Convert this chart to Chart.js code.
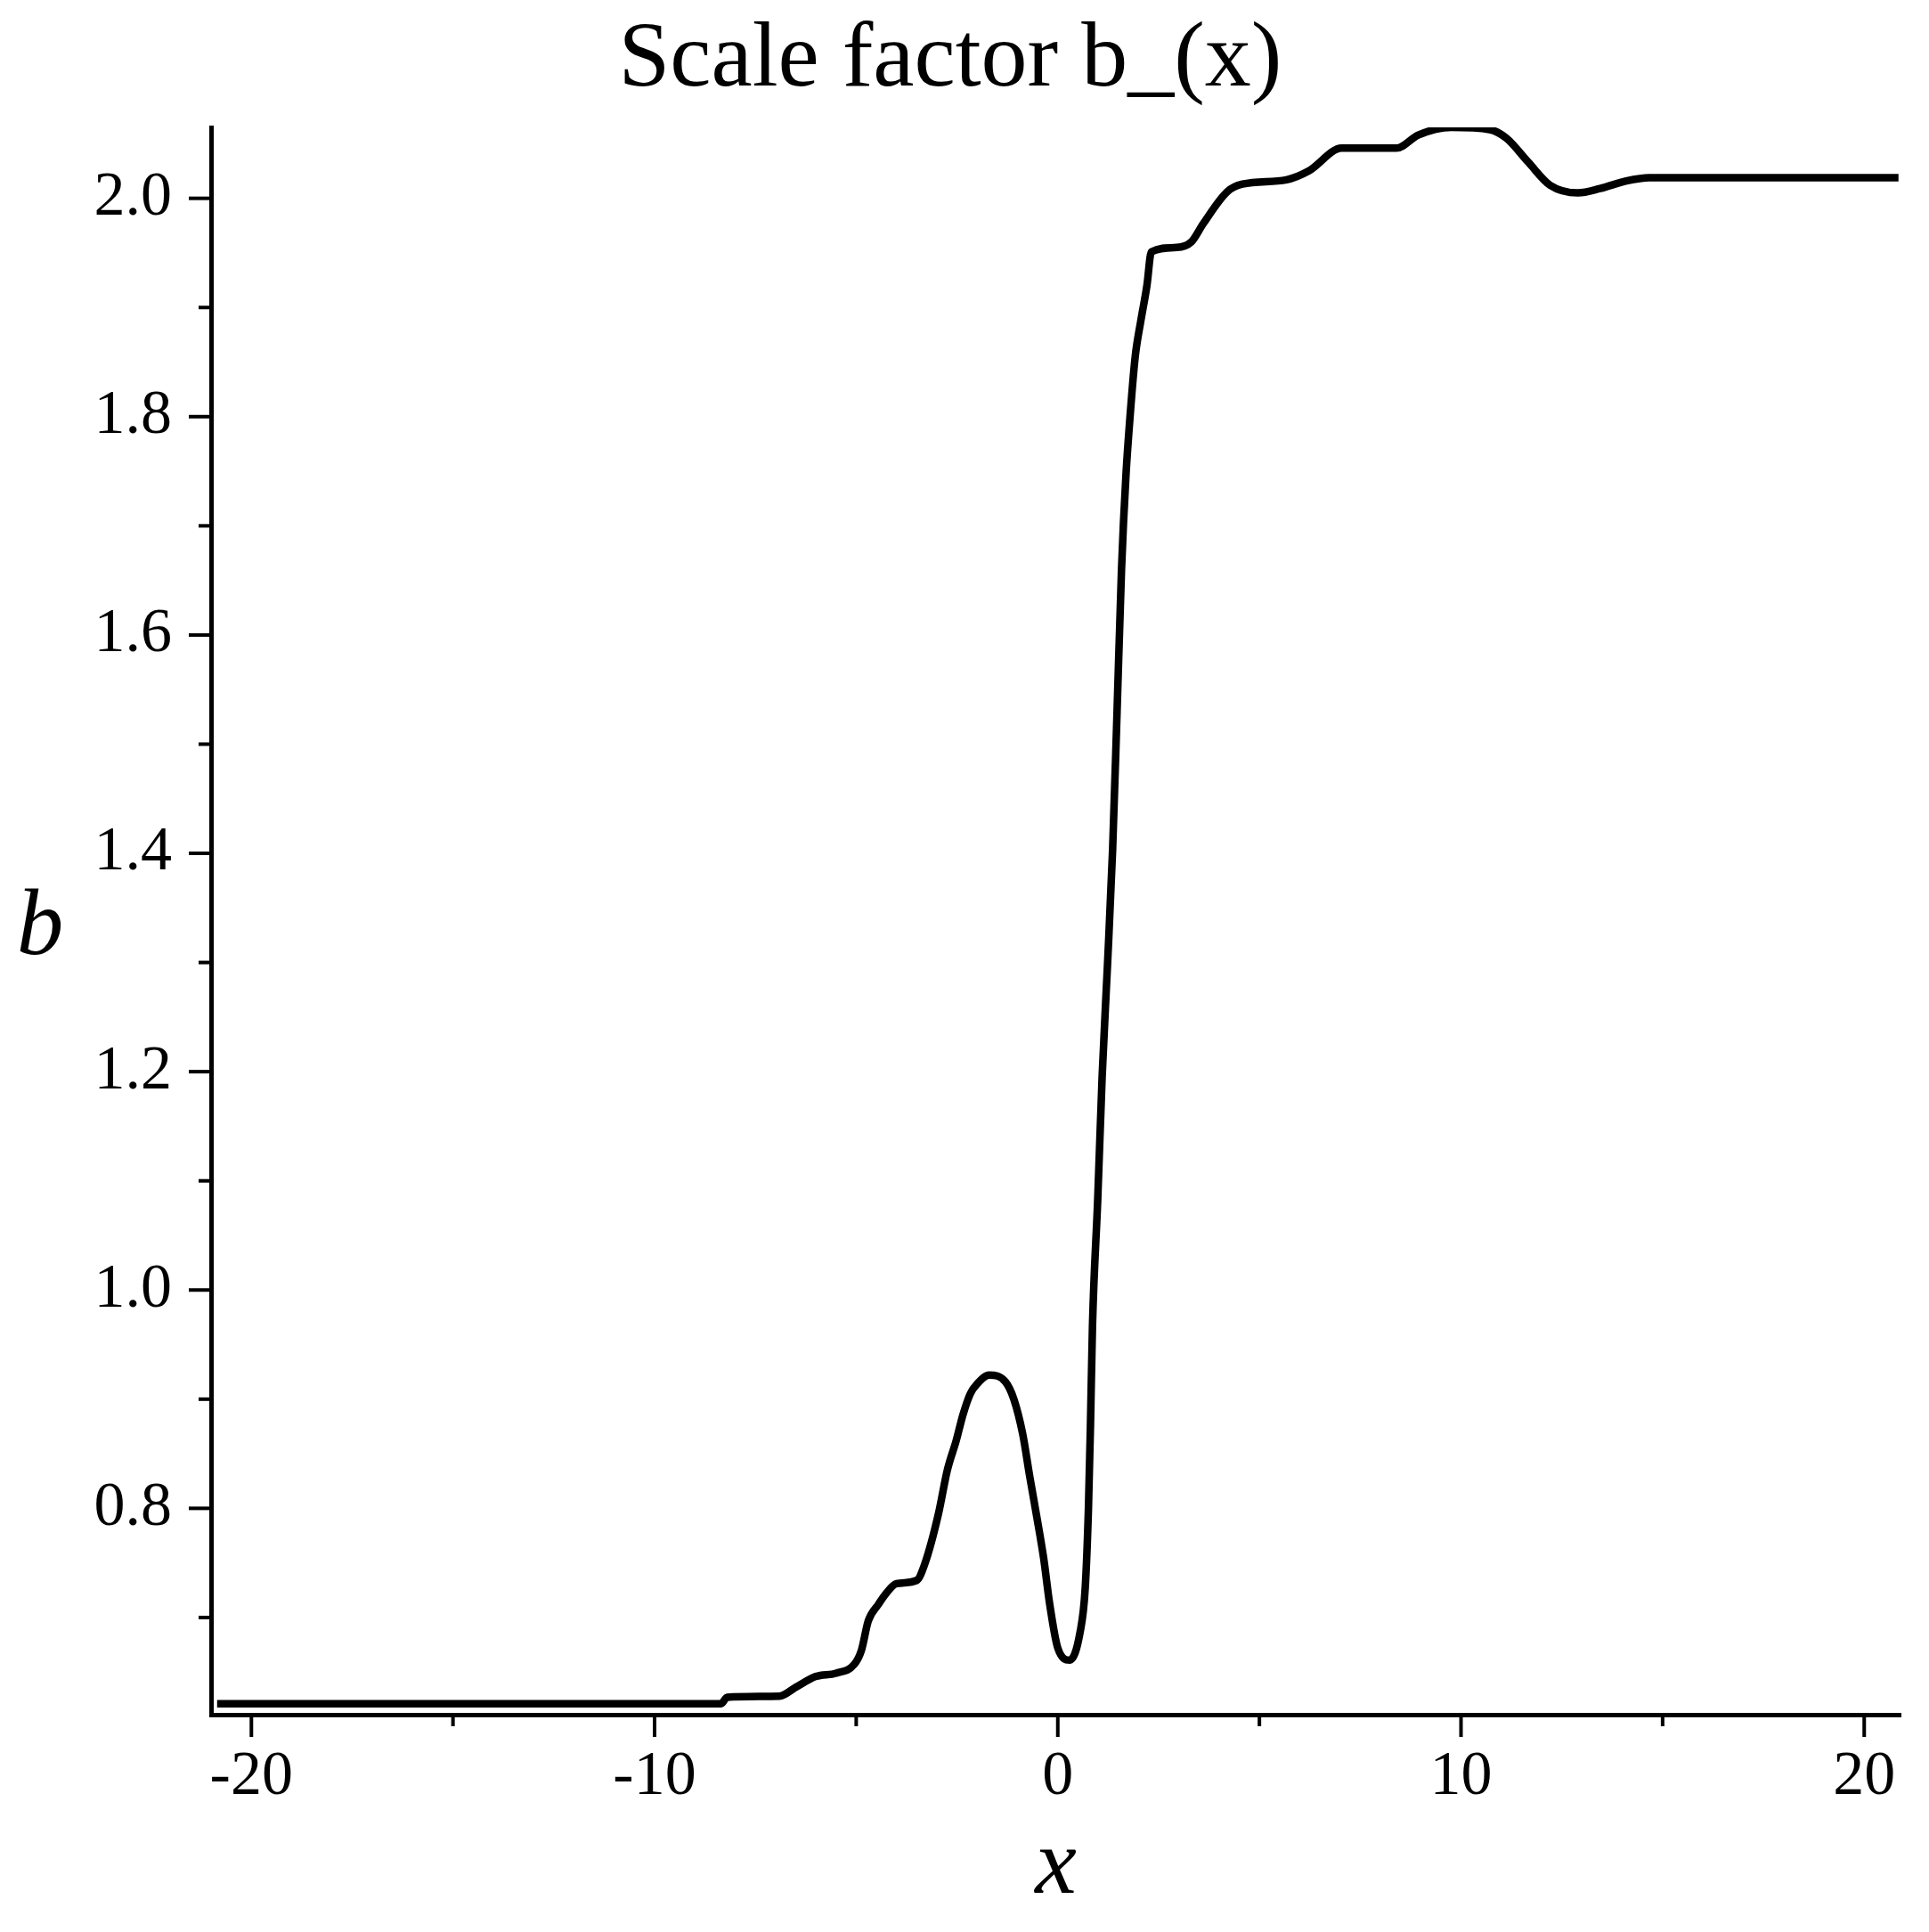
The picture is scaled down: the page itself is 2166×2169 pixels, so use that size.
<!DOCTYPE html>
<html>
<head>
<meta charset="utf-8">
<script src="https://cdn.jsdelivr.net/npm/chart.js@4"></script>
<style>
  html, body { margin: 0; padding: 0; background: #fff; }
  canvas { display: block; }
</style>
</head>
<body>
<canvas id="scaleChart" width="2166" height="2169"></canvas>
<script>
// values
const xValues = [-20.85, -8.35, -8.2, -6.9, -6.5, -6.0, -5.5, -5.05, -4.87, -4.7, -4.45, -4.26, -4.0, -3.5, -3.3,
    -2.96, -2.74, -2.52, -2.35, -2.17, -2.0, -1.7, -1.3, -1.09, -0.87, -0.7, -0.52, -0.35, -0.2, 0.0,
    0.3, 0.55, 0.68, 0.76, 0.81, 0.86, 0.99, 1.10, 1.23, 1.36, 1.47, 1.58, 1.69, 1.80, 1.92, 2.06, 2.21, 2.32,
    2.95, 3.31, 3.61, 4.20, 4.58, 5.67, 6.22, 7.04, 8.40, 8.94, 9.76, 10.71, 11.13, 11.67, 12.21, 12.9,
    13.45, 14.1, 14.67, 20.85];
const bValues = [0.621, 0.621, 0.627, 0.628, 0.636, 0.646, 0.649, 0.657, 0.670, 0.697, 0.712, 0.722, 0.731, 0.734, 0.749,
    0.795, 0.835, 0.862, 0.886, 0.905, 0.914, 0.922, 0.916, 0.900, 0.868, 0.830, 0.792, 0.754, 0.712, 0.672,
    0.661, 0.686, 0.727, 0.800, 0.876, 0.967, 1.083, 1.196, 1.296, 1.404, 1.530, 1.660, 1.746, 1.804, 1.855, 1.888, 1.920, 1.951,
    1.955, 1.960, 1.977, 2.006, 2.013, 2.017, 2.025, 2.046, 2.046, 2.058, 2.065, 2.063, 2.055, 2.033, 2.012, 2.005,
    2.009, 2.016, 2.019, 2.019];
const xLabelTicks = [-20, -10, 0, 10, 20];
const yLabelTicks = [0.8, 1.0, 1.2, 1.4, 1.6, 1.8, 2.0];

const serif = '"Liberation Serif", "Times New Roman", serif';

// tick marks (long for labelled ticks, short for the rest) and the upright "b"
const axisDecor = {
    id: 'axisDecor',
    afterDraw(chart) {
        const { ctx, scales: { x, y } } = chart;
        ctx.save();
        ctx.strokeStyle = '#000';
        ctx.lineWidth = 4;
        x.ticks.forEach(t => {
            const px = x.getPixelForValue(t.value);
            const len = xLabelTicks.includes(t.value) ? 25 : 13;
            ctx.beginPath(); ctx.moveTo(px, x.top); ctx.lineTo(px, x.top + len); ctx.stroke();
        });
        y.ticks.forEach(t => {
            const py = y.getPixelForValue(t.value);
            const major = yLabelTicks.some(v => Math.abs(v - t.value) < 1e-6);
            const len = major ? 25 : 14;
            ctx.beginPath(); ctx.moveTo(y.right, py); ctx.lineTo(y.right - len, py); ctx.stroke();
        });
        ctx.fillStyle = '#000';
        ctx.font = 'italic 105px ' + serif;
        ctx.textAlign = 'center';
        ctx.textBaseline = 'alphabetic';
        ctx.fillText('b', 45, (chart.chartArea.top + chart.chartArea.bottom) / 2 + 37);
        ctx.restore();
    }
};

const ctx = document.getElementById('scaleChart').getContext('2d');
const scaleChart = new Chart(ctx, {
    type: 'line',
    data: {
        datasets: [{
            label: 'b_(x)',
            data: xValues.map((v, i) => ({ x: v, y: bValues[i] })),
            borderColor: '#000',
            borderWidth: 8.5,
            pointRadius: 0,
            cubicInterpolationMode: 'monotone',
            borderJoinStyle: 'round',
            fill: false
        }]
    },
    options: {
        responsive: false,
        animation: false,
        devicePixelRatio: 1,
        layout: { padding: { left: 0, right: 32, top: 0, bottom: 0 } },
        plugins: {
            legend: { display: false },
            tooltip: { enabled: false },
            title: {
                display: true,
                text: 'Scale factor b_(x)',
                color: '#000',
                font: { family: serif, size: 104, weight: 'normal', lineHeight: 1.2 },
                padding: { top: 6, bottom: 12.2 }
            }
        },
        scales: {
            x: {
                type: 'linear',
                min: -21,
                max: 20.9,
                afterFit: s => { s.height = 244; },
                grid: { display: false, drawTicks: false },
                border: { display: true, color: '#000', width: 5 },
                ticks: {
                    stepSize: 5,
                    autoSkip: false,
                    includeBounds: false,
                    maxRotation: 0,
                    padding: 29,
                    color: '#000',
                    font: { family: serif, size: 70 },
                    callback: v => xLabelTicks.includes(v) ? String(v) : ''
                },
                title: {
                    display: true,
                    text: 'x',
                    color: '#000',
                    font: { family: serif, size: 105, style: 'italic', lineHeight: 1.2 },
                    padding: { top: 0, bottom: 9 }
                }
            },
            y: {
                type: 'linear',
                min: 0.611,
                max: 2.065,
                afterFit: s => { s.width = 237; },
                grid: { display: false, drawTicks: false },
                border: { display: true, color: '#000', width: 5 },
                ticks: {
                    stepSize: 0.1,
                    autoSkip: false,
                    includeBounds: false,
                    padding: 44,
                    color: '#000',
                    font: { family: serif, size: 70 },
                    callback: v => yLabelTicks.some(t => Math.abs(t - v) < 1e-6) ? v.toFixed(1) : ''
                }
            }
        }
    },
    plugins: [axisDecor]
});
</script>
</body>
</html>
